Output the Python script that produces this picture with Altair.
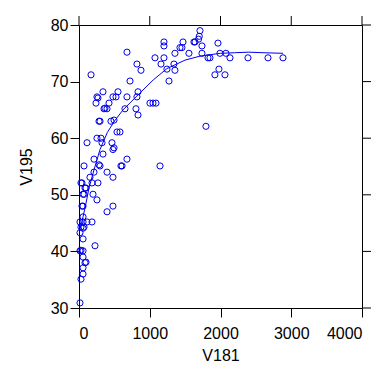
import altair as alt
import pandas as pd

# scatter points (V181, V195)
v181 = [1710, 1700, 1690, 1201, 1201, 1470, 1554, 1356, 1625, 1640, 1738, 1738, 1427, 1074, 1201,
        1159, 1342, 1243, 1356, 1272, 678, 819, 876, 721, 170, 1964, 1921, 1978, 2063, 1851,
        1823, 1992, 2077, 2134, 2388, 2671, 2883, 1455,
        339, 254, 240, 268, 480, 523, 551, 424, 353, 396, 678, 834, 819, 650, 805, 834,
        1003, 1046, 1088, 283, 495, 537, 579, 1794, 113, 254, 311, 325, 466, 495, 339, 212,
        678, 480, 71, 297, 593, 1145, 212, 396, 480, 155, 42, 268, 184, 85, 57, 198, 254,
        57, 480, 396, 57, 14, 57, 113, 184, 57, 14, 57, 226, 14, 57, 57, 85, 57, 57, 28, 14,
        367, 297, 452, 283, 608, 28, 71, 99, 42, 28, 71, 99, 28]
v195 = [79.0, 78.0, 77.5, 77.0, 76.3, 77.0, 75.0, 75.0, 77.0, 77.0, 76.3, 75.0, 76.0, 74.2, 74.2,
        73.1, 73.1, 72.2, 72.0, 70.1, 75.2, 73.1, 72.0, 70.1, 71.2, 76.8, 71.2, 72.2, 71.2, 74.2,
        74.2, 75.0, 75.0, 74.2, 74.2, 74.2, 74.2, 76.0,
        68.2, 67.3, 66.2, 67.1, 67.3, 67.3, 68.2, 66.2, 65.2, 65.2, 67.3, 68.2, 67.3, 65.2, 65.2, 64.1,
        66.2, 66.2, 66.2, 63.0, 63.2, 61.1, 61.1, 62.1, 59.2, 60.0, 60.0, 59.2, 59.2, 58.3, 57.2, 56.3,
        56.3, 58.0, 55.1, 55.1, 55.1, 55.1, 54.0, 54.0, 53.1, 53.1, 52.1, 52.1, 52.1, 51.2, 50.1, 50.1, 49.1,
        48.0, 48.0, 47.0, 46.1, 45.2, 45.2, 45.2, 45.2, 44.1, 43.3, 42.2, 41.0, 40.1, 40.1, 39.0, 38.0, 37.1, 36.0, 35.1, 30.9,
        65.3, 63.0, 63.0, 55.3, 55.1, 52.1, 50.1, 51.2, 48.0, 44.3, 44.3, 38.1, 40.2]

# smooth curve
curve_x = [14, 57, 99, 141, 212, 297, 400, 500, 622, 862, 1050, 1243, 1500, 1710, 2000, 2200, 2400, 2600, 2883]
curve_y = [44.0, 46.1, 48.5, 51.2, 54.4, 58.0, 61.0, 63.0, 65.0, 68.0, 70.3, 72.3, 73.8, 74.5, 75.0, 75.1, 75.2, 75.1, 75.0]

# tick values
x_ticks = [0, 1000, 2000, 3000, 4000]
y_ticks = [30, 40, 50, 60, 70, 80]

pts = pd.DataFrame({"V181": v181, "V195": v195})
crv = pd.DataFrame({"V181": curve_x, "V195": curve_y})
xt = pd.DataFrame({"xt": x_ticks})
yt = pd.DataFrame({"yt": y_ticks})

blue = "#0000ee"
font = "Liberation Sans"
W = 283
H = 283

xs = alt.Scale(domain=[0, 4000], nice=False, zero=False)
ys = alt.Scale(domain=[30, 80], nice=False, zero=False)

common_axis = dict(grid=False, domain=False, tickColor="black", tickSize=9, tickWidth=1,
                   labelFont=font, labelFontSize=16, labelColor="black", format="d",
                   titleFont=font, titleFontSize=16, titleColor="black", titleFontWeight="normal")

points = alt.Chart(pts).mark_point(shape="circle", filled=False, color=blue, size=38, strokeWidth=1, opacity=1).encode(
    x=alt.X("V181:Q", scale=xs, axis=alt.Axis(orient="bottom", values=x_ticks,
                                              labelPadding=8, titlePadding=6, **common_axis)),
    y=alt.Y("V195:Q", scale=ys, axis=alt.Axis(orient="left", values=y_ticks,
                                              labelPadding=2, titlePadding=16, **common_axis)),
)

line = alt.Chart(crv).mark_line(color=blue, strokeWidth=1).encode(
    x=alt.X("V181:Q", scale=xs),
    y=alt.Y("V195:Q", scale=ys),
)

top_ticks = alt.Chart(xt).mark_rule(color="black", strokeWidth=1, clip=False).encode(
    x=alt.X("xt:Q", scale=xs, title="V181"),
    y=alt.value(-9),
    y2=alt.value(0),
)

right_ticks = alt.Chart(yt).mark_rule(color="black", strokeWidth=1, clip=False).encode(
    y=alt.Y("yt:Q", scale=ys, title="V195"),
    x=alt.value(W),
    x2=alt.value(W + 9),
)

chart = alt.layer(points, line, top_ticks, right_ticks).properties(
    width=W, height=H,
    autosize=alt.AutoSizeParams(type="none"),
    padding={"left": 71, "top": 17, "right": 14, "bottom": 62},
    background="white",
).configure_view(stroke="black", strokeWidth=1)

chart.save("out.html", embed_options={"renderer": "svg", "actions": False})
